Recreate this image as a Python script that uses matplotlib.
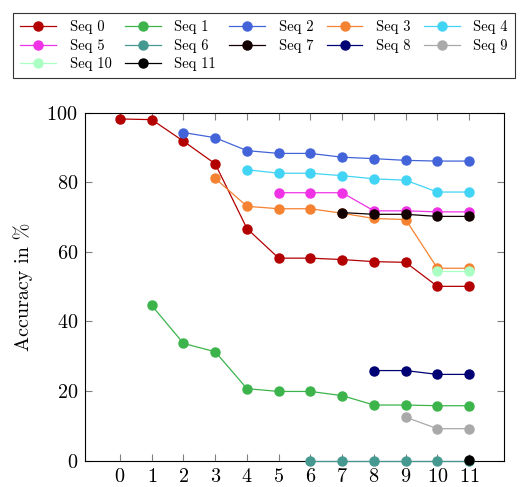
import matplotlib
matplotlib.use('Agg')
import matplotlib.pyplot as plt
import numpy as np

plt.rcParams['font.family'] = 'serif'
plt.rcParams['font.serif'] = ['cmr10', 'DejaVu Serif']
plt.rcParams['mathtext.fontset'] = 'cm'
plt.rcParams['axes.formatter.use_mathtext'] = True

# accuracy per sequence, x = task index
seq_x = {
    0: [0, 1, 2, 3, 4, 5, 6, 7, 8, 9, 10, 11],
    1: [1, 2, 3, 4, 5, 6, 7, 8, 9, 10, 11],
    2: [2, 3, 4, 5, 6, 7, 8, 9, 10, 11],
    3: [3, 4, 5, 6, 7, 8, 9, 10, 11],
    4: [4, 5, 6, 7, 8, 9, 10, 11],
    5: [5, 6, 7, 8, 9, 10, 11],
    6: [6, 7, 8, 9, 10, 11],
    7: [7, 8, 9, 10, 11],
    8: [8, 9, 10, 11],
    9: [9, 10, 11],
    10: [10, 11],
    11: [11],
}
seq_y = {
    0: [98.2, 98.0, 91.8, 85.3, 66.7, 58.2, 58.2, 57.8, 57.2, 57.0, 50.1, 50.1],
    1: [44.6, 33.7, 31.3, 20.7, 19.9, 19.9, 18.7, 16.0, 16.0, 15.8, 15.8],
    2: [94.3, 92.8, 89.1, 88.3, 88.3, 87.2, 86.8, 86.3, 86.1, 86.1],
    3: [81.1, 73.1, 72.4, 72.4, 71.1, 69.6, 69.3, 55.3, 55.3],
    4: [83.6, 82.6, 82.6, 81.9, 81.0, 80.6, 77.2, 77.2],
    5: [77.0, 77.0, 77.0, 71.8, 71.8, 71.5, 71.5],
    6: [0, 0, 0, 0, 0, 0],
    7: [71.3, 70.8, 70.8, 70.2, 70.2],
    8: [25.9, 25.9, 24.8, 24.8],
    9: [12.5, 9.2, 9.2],
    10: [54.4, 54.4],
    11: [0.3],
}
colors = ['#b30000', '#3cb44b', '#4363d8', '#f58231', '#42d4f4', '#f032e6',
          '#469990', '#120000', '#000075', '#a9a9a9', '#aaffc3', '#000000']
ticks_x = list(range(12))

fig = plt.figure(figsize=(5.3, 4.87), dpi=100)
ax = fig.add_axes([0.160, 0.054, 0.791, 0.7146])

handles = []
for i in range(12):
    h, = ax.plot(seq_x[i], seq_y[i], '-o', color=colors[i], lw=0.9,
                 markersize=6.5, label='Seq %d' % i, clip_on=False, zorder=3)
    handles.append(h)

ax.set_xlim(-1.11, 12.1)
ax.set_ylim(0, 100)
ax.set_xticks(ticks_x)
ax.set_yticks([0, 20, 40, 60, 80, 100])
ax.tick_params(direction='in', top=True, right=True, length=5, color='#808080',
               labelsize=14.5, pad=5)
ax.set_ylabel('Accuracy in %', fontsize=14.5, labelpad=10)

order = [0, 5, 10, 1, 6, 11, 2, 7, 3, 8, 4, 9]
leg = fig.legend([handles[k] for k in order], ['Seq %d' % k for k in order],
                 ncol=5, loc='upper left', bbox_to_anchor=(0.0245, 0.973),
                 frameon=True, fancybox=False, edgecolor='black',
                 handlelength=2.45, columnspacing=0.9, handletextpad=0.95,
                 borderpad=0.5, labelspacing=0.3, borderaxespad=0,
                 prop={'family': 'serif', 'size': 10.5})
leg.get_frame().set_linewidth(0.8)

fig.savefig('out.png', dpi=100)
